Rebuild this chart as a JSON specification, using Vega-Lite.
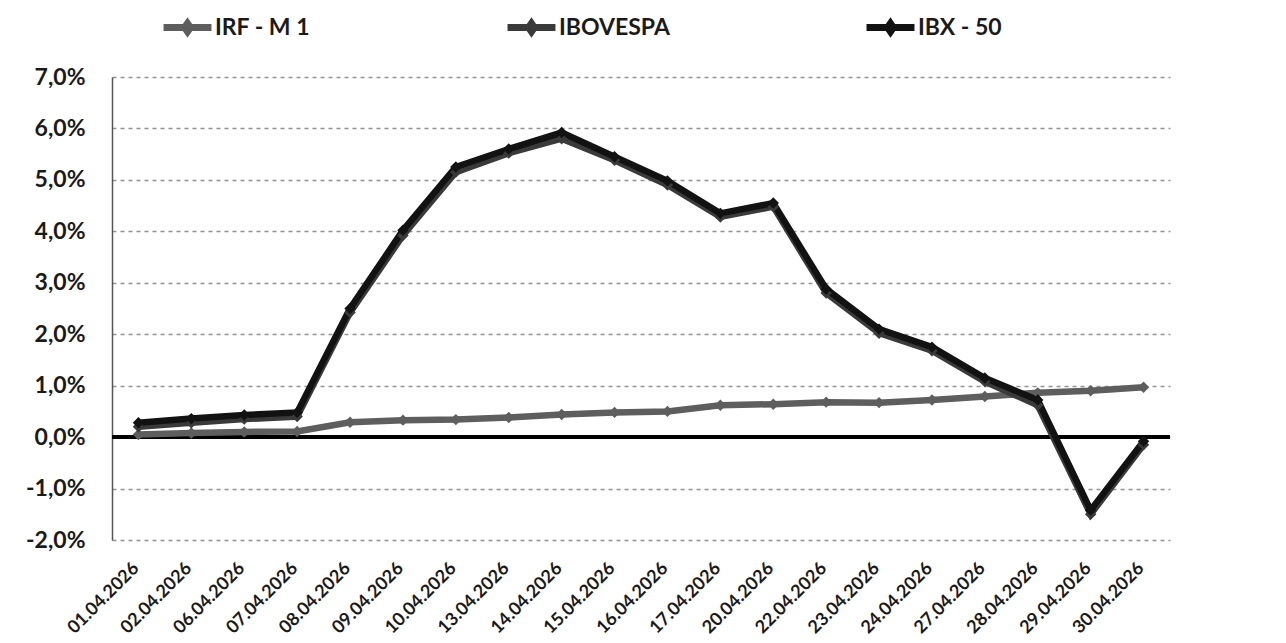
{
  "$schema": "https://vega.github.io/schema/vega-lite/v6.json",
  "width": 1058,
  "height": 463,
  "autosize": "none",
  "padding": {"left": 112, "top": 77, "right": 116, "bottom": 103},
  "background": "white",
  "config": {"view": {"stroke": null}, "font": "Lato"},
  "datasets": {
    "d": [
      {"date": "01.04.2026", "serie": "IRF - M 1", "v": 0.05},
      {"date": "02.04.2026", "serie": "IRF - M 1", "v": 0.08},
      {"date": "06.04.2026", "serie": "IRF - M 1", "v": 0.1},
      {"date": "07.04.2026", "serie": "IRF - M 1", "v": 0.11},
      {"date": "08.04.2026", "serie": "IRF - M 1", "v": 0.29},
      {"date": "09.04.2026", "serie": "IRF - M 1", "v": 0.33},
      {"date": "10.04.2026", "serie": "IRF - M 1", "v": 0.34},
      {"date": "13.04.2026", "serie": "IRF - M 1", "v": 0.38},
      {"date": "14.04.2026", "serie": "IRF - M 1", "v": 0.44},
      {"date": "15.04.2026", "serie": "IRF - M 1", "v": 0.48},
      {"date": "16.04.2026", "serie": "IRF - M 1", "v": 0.5},
      {"date": "17.04.2026", "serie": "IRF - M 1", "v": 0.62},
      {"date": "20.04.2026", "serie": "IRF - M 1", "v": 0.64},
      {"date": "22.04.2026", "serie": "IRF - M 1", "v": 0.68},
      {"date": "23.04.2026", "serie": "IRF - M 1", "v": 0.67},
      {"date": "24.04.2026", "serie": "IRF - M 1", "v": 0.72},
      {"date": "27.04.2026", "serie": "IRF - M 1", "v": 0.79},
      {"date": "28.04.2026", "serie": "IRF - M 1", "v": 0.86},
      {"date": "29.04.2026", "serie": "IRF - M 1", "v": 0.9},
      {"date": "30.04.2026", "serie": "IRF - M 1", "v": 0.97},
      {"date": "01.04.2026", "serie": "IBOVESPA", "v": 0.2},
      {"date": "02.04.2026", "serie": "IBOVESPA", "v": 0.28},
      {"date": "06.04.2026", "serie": "IBOVESPA", "v": 0.35},
      {"date": "07.04.2026", "serie": "IBOVESPA", "v": 0.4},
      {"date": "08.04.2026", "serie": "IBOVESPA", "v": 2.42},
      {"date": "09.04.2026", "serie": "IBOVESPA", "v": 3.92},
      {"date": "10.04.2026", "serie": "IBOVESPA", "v": 5.15},
      {"date": "13.04.2026", "serie": "IBOVESPA", "v": 5.52},
      {"date": "14.04.2026", "serie": "IBOVESPA", "v": 5.8},
      {"date": "15.04.2026", "serie": "IBOVESPA", "v": 5.38},
      {"date": "16.04.2026", "serie": "IBOVESPA", "v": 4.9},
      {"date": "17.04.2026", "serie": "IBOVESPA", "v": 4.28},
      {"date": "20.04.2026", "serie": "IBOVESPA", "v": 4.48},
      {"date": "22.04.2026", "serie": "IBOVESPA", "v": 2.8},
      {"date": "23.04.2026", "serie": "IBOVESPA", "v": 2.02},
      {"date": "24.04.2026", "serie": "IBOVESPA", "v": 1.68},
      {"date": "27.04.2026", "serie": "IBOVESPA", "v": 1.08},
      {"date": "28.04.2026", "serie": "IBOVESPA", "v": 0.62},
      {"date": "29.04.2026", "serie": "IBOVESPA", "v": -1.5},
      {"date": "30.04.2026", "serie": "IBOVESPA", "v": -0.15},
      {"date": "01.04.2026", "serie": "IBX - 50", "v": 0.28},
      {"date": "02.04.2026", "serie": "IBX - 50", "v": 0.36},
      {"date": "06.04.2026", "serie": "IBX - 50", "v": 0.43},
      {"date": "07.04.2026", "serie": "IBX - 50", "v": 0.48},
      {"date": "08.04.2026", "serie": "IBX - 50", "v": 2.5},
      {"date": "09.04.2026", "serie": "IBX - 50", "v": 4.02},
      {"date": "10.04.2026", "serie": "IBX - 50", "v": 5.25},
      {"date": "13.04.2026", "serie": "IBX - 50", "v": 5.6},
      {"date": "14.04.2026", "serie": "IBX - 50", "v": 5.92},
      {"date": "15.04.2026", "serie": "IBX - 50", "v": 5.45},
      {"date": "16.04.2026", "serie": "IBX - 50", "v": 4.98},
      {"date": "17.04.2026", "serie": "IBX - 50", "v": 4.35},
      {"date": "20.04.2026", "serie": "IBX - 50", "v": 4.55},
      {"date": "22.04.2026", "serie": "IBX - 50", "v": 2.88},
      {"date": "23.04.2026", "serie": "IBX - 50", "v": 2.1},
      {"date": "24.04.2026", "serie": "IBX - 50", "v": 1.75},
      {"date": "27.04.2026", "serie": "IBX - 50", "v": 1.15},
      {"date": "28.04.2026", "serie": "IBX - 50", "v": 0.72},
      {"date": "29.04.2026", "serie": "IBX - 50", "v": -1.42},
      {"date": "30.04.2026", "serie": "IBX - 50", "v": -0.08}
    ]
  },
  "data": {"name": "d"},
  "encoding": {
    "x": {
      "field": "date",
      "type": "ordinal",
      "sort": null,
      "scale": {"padding": 0.5},
      "axis": {
        "title": null,
        "domain": false,
        "ticks": false,
        "labelAngle": -45,
        "labelFontSize": 18,
        "labelFontWeight": "bold",
        "labelColor": "#1a1a1a",
        "labelPadding": 19,
        "labelOffset": -9
      }
    },
    "y": {
      "field": "v",
      "type": "quantitative",
      "scale": {"domain": [-2, 7], "nice": false, "zero": false},
      "axis": {
        "title": null,
        "values": [-2, -1, 0, 1, 2, 3, 4, 5, 6, 7],
        "labelExpr": "(datum.value < 0 ? '-' : '') + replace(format(abs(datum.value), '.1f'), '.', ',') + '%'",
        "labelFontSize": 23,
        "labelFontWeight": "bold",
        "labelColor": "#1a1a1a",
        "labelPadding": 27,
        "ticks": false,
        "domain": true,
        "domainColor": "#555555",
        "domainWidth": 1.5,
        "grid": true,
        "gridColor": "#949494",
        "gridDash": [4, 4],
        "gridWidth": 1.5
      }
    }
  },
  "layer": [
    {
      "mark": {"type": "rule", "color": "#000000", "strokeWidth": 3.5},
      "encoding": {"x": null, "y": {"datum": 0}}
    },
    {
      "mark": {
        "type": "line",
        "strokeWidth": 6.5,
        "point": {"shape": "diamond", "size": 130, "filled": true}
      },
      "encoding": {
        "color": {
          "field": "serie",
          "type": "nominal",
          "scale": {
            "domain": ["IRF - M 1", "IBOVESPA", "IBX - 50"],
            "range": ["#5e5e5e", "#3a3a3a", "#121212"]
          },
          "legend": {
            "title": null,
            "orient": "none",
            "direction": "horizontal",
            "legendX": 48,
            "legendY": -77,
            "gridAlign": "none",
            "columnPadding": 182,
            "labelFontSize": 23,
            "labelFontWeight": "bold",
            "labelColor": "#1a1a1a",
            "labelOffset": 0,
            "symbolType": "M-1,0H1M0,-0.17L0.12,0L0,0.17L-0.12,0Z",
            "symbolSize": 2300,
            "symbolStrokeWidth": 7,
            "encode": {
              "symbols": {
                "update": {
                  "fill": {"scale": "color", "field": "value"},
                  "strokeWidth": {"value": 7}
                }
              }
            }
          }
        }
      }
    }
  ]
}
